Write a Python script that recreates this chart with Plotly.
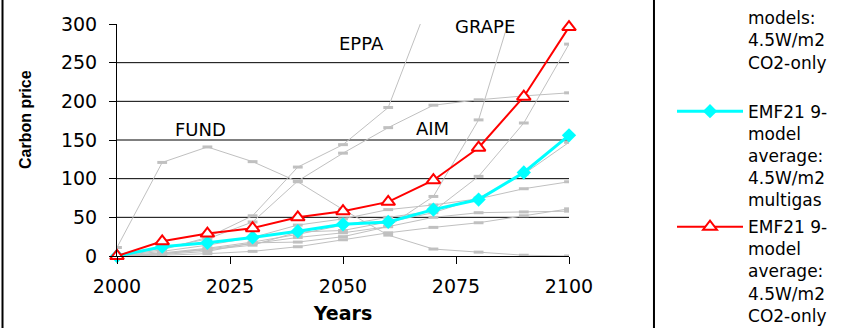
import plotly.graph_objects as go

# Carbon price paths, 4.5 W/m2 stabilisation (EMF21)
years = [2000, 2010, 2020, 2030, 2040, 2050, 2060, 2070, 2080, 2090, 2100]

# individual models, CO2-only
fund = [11, 121, 141, 122, 96, 60, 27, 9, 5, 1, 0]
eppa = [0, 8, 24, 52, 115, 144, 192, 340, 500, 650, 800]
aim = [0, 10, 22, 44, 97, 133, 166, 195, 202, 207, 211]
grape = [0, 3, 9, 16, 24, 30, 38, 77, 176, 380, 560]
model_e = [0, 4, 10, 18, 28, 40, 50, 58, 103, 172, 274]
model_f = [0, 3, 8, 14, 31, 33, 44, 56, 75, 106, 147]
model_g = [0, 6, 14, 24, 40, 48, 60, 66, 74, 87, 96]
model_h = [0, 1, 3, 6, 12, 21, 30, 37, 43, 52, 61]
model_i = [0, 2, 6, 17, 18, 25, 38, 50, 56, 57, 58]

# 9-model averages
avg_multigas = [0, 12, 17, 24, 32, 41, 44, 60, 73, 108, 156]
avg_co2 = [0, 19, 29, 36, 50, 58, 70, 98, 140, 206, 296]

individual = [
    ("FUND", fund), ("EPPA", eppa), ("AIM", aim), ("GRAPE", grape),
    ("model E", model_e), ("model F", model_f), ("model G", model_g),
    ("model H", model_h), ("model I", model_i),
]

model_labels = [("FUND", 2018.4, 164), ("EPPA", 2054.2, 275),
                ("GRAPE", 2081.4, 297), ("AIM", 2069.7, 165.5)]

y_ticks = [0, 50, 100, 150, 200, 250, 300]
grid_vals = [50, 100, 150, 200, 250]
x_ticks = [2000, 2025, 2050, 2075, 2100]

FONT = "DejaVu Sans"
GREY = "#c0c0c0"

fig = go.Figure()

for i, (name, vals) in enumerate(individual):
    fig.add_trace(go.Scatter(
        x=years, y=vals, mode="lines+markers", name=(
            "EMF21 individual<br> <br>models:<br>4.5W/m2<br>CO2-only<br> "
            if i == 0 else name),
        legendgroup="individual", showlegend=(i == 0),
        line=dict(color=GREY, width=1),
        marker=dict(symbol="line-ew", size=7,
                    line=dict(color=GREY, width=3)),
    ))

fig.add_trace(go.Scatter(
    x=years, y=avg_multigas, mode="lines+markers",
    name="EMF21 9-<br>model<br>average:<br>4.5W/m2<br>multigas",
    line=dict(color="#00ffff", width=3),
    marker=dict(symbol="diamond", size=11, color="#00ffff",
                line=dict(width=0)),
    cliponaxis=False,
))

fig.add_trace(go.Scatter(
    x=years, y=avg_co2, mode="lines+markers",
    name="EMF21 9-<br>model<br>average:<br>4.5W/m2<br>CO2-only",
    line=dict(color="#ff0000", width=2),
    marker=dict(symbol="triangle-up", size=12, color="white",
                line=dict(color="#ff0000", width=2)),
    cliponaxis=False,
))

for text, lx, ly in model_labels:
    fig.add_annotation(x=lx, y=ly, text=text, showarrow=False,
                       font=dict(family=FONT, size=18, color="black"))

# horizontal gridlines (none at the top of the scale)
for g in grid_vals:
    fig.add_shape(type="line", xref="paper", yref="y", x0=0, x1=1,
                  y0=g, y1=g, line=dict(color="black", width=1),
                  layer="below")

# chart frame on the left and legend box edge
fig.add_shape(type="line", xref="paper", yref="paper",
              x0=-0.2533, x1=-0.2533, y0=-2, y1=2,
              line=dict(color="black", width=2))
fig.add_shape(type="line", xref="paper", yref="paper",
              x0=1.188, x1=1.188, y0=-2, y1=2,
              line=dict(color="black", width=2))

fig.add_annotation(xref="paper", yref="paper", x=-0.202, y=0.589,
                   xanchor="center", yanchor="middle",
                   text="<b>Carbon price</b>", textangle=-90,
                   showarrow=False,
                   font=dict(family="Liberation Sans", size=16,
                             color="black"))

fig.update_layout(
    width=860, height=328,
    margin=dict(l=117, r=291, t=24, b=72, autoexpand=False),
    paper_bgcolor="white", plot_bgcolor="white",
    font=dict(family=FONT, color="black"),
    showlegend=True,
    legend=dict(
        xref="paper", yref="paper",
        x=1.2279, xanchor="left", y=1.2931, yanchor="top",
        valign="top", itemwidth=66, tracegroupgap=2,
        maxheight=1000, bgcolor="rgba(0,0,0,0)", borderwidth=0,
        font=dict(family=FONT, size=17, color="black"),
    ),
    xaxis=dict(
        range=[2000, 2100], tickvals=x_ticks, showgrid=False,
        zeroline=False, showline=True, linecolor="black", linewidth=1,
        ticks="outside", ticklen=7, tickcolor="black",
        tickfont=dict(family=FONT, size=19), ticklabelstandoff=6,
        title=dict(text="<b>Years</b>", standoff=10,
                   font=dict(family=FONT, size=19)),
    ),
    yaxis=dict(
        range=[0, 300], tickvals=y_ticks, showgrid=False,
        zeroline=False, showline=True, linecolor="black", linewidth=1,
        ticks="outside", ticklen=7, tickcolor="black",
        tickfont=dict(family=FONT, size=19), ticklabelstandoff=8,
    ),
)

fig.write_html("out.html")
